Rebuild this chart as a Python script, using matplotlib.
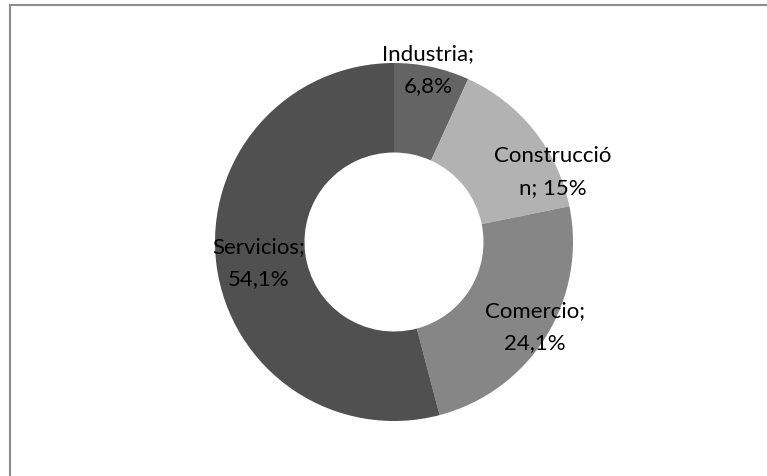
import matplotlib
matplotlib.use('Agg')
import matplotlib.pyplot as plt
from matplotlib.lines import Line2D

# Share of firms by sector
sectors = ['Industria', 'Construcción', 'Comercio', 'Servicios']
shares = [6.8, 15, 24.1, 54.1]
colors = ['#646464', '#b2b2b2', '#868686', '#505050']
# Excel wraps the long label inside its box
label_text = ['Industria;\n6,8%', 'Construcció\nn; 15%', 'Comercio;\n24,1%', 'Servicios;\n54,1%']
# label centres in pixels (x from left, y from top)
label_pos = [(428, 70), (553, 172), (535, 327), (259, 263)]

W, H = 767, 477
fig = plt.figure(figsize=(W / 100, H / 100), dpi=100)
ax = fig.add_axes([0, 0, 1, 1])

cx, cy, r = 394, H - 243, 179
ax.pie(shares, colors=colors, startangle=90, counterclock=False,
       center=(cx, cy), radius=r, frame=True,
       wedgeprops=dict(width=r * 0.5, linewidth=0))
ax.set_xlim(0, W)
ax.set_ylim(0, H)
ax.set_aspect('auto')
ax.axis('off')

for txt, (x, y) in zip(label_text, label_pos):
    ax.text(x, H - y, txt, ha='center', va='center', fontsize=16,
            family='Lato', color='black', linespacing=1.8)

# chart area border (only top and left edge visible)
fig.add_artist(Line2D([10 / W, 10 / W], [0, 1 - 6 / H], transform=fig.transFigure,
                      color='#8c8c8c', lw=1.5))
fig.add_artist(Line2D([10 / W, 1], [1 - 6 / H, 1 - 6 / H], transform=fig.transFigure,
                      color='#8c8c8c', lw=1.5))

fig.savefig('out.png', dpi=100)
